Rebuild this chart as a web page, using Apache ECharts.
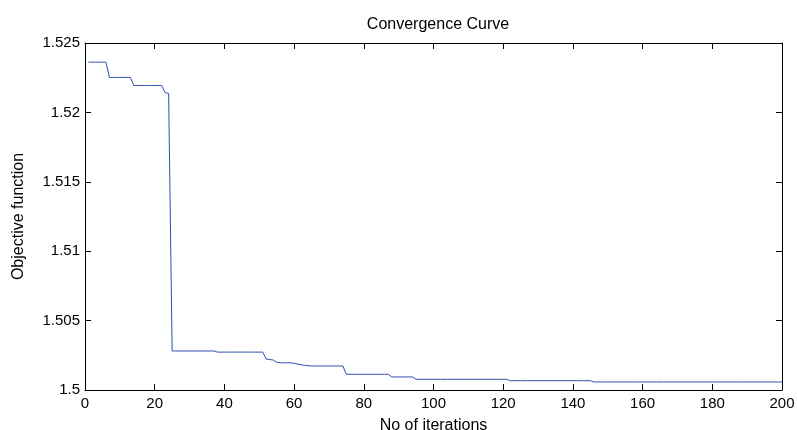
<!DOCTYPE html>
<html>
<head>
<meta charset="utf-8">
<script src="https://cdn.jsdelivr.net/npm/echarts@6/dist/echarts.min.js"></script>
<style>
html,body{margin:0;padding:0;background:#fff;}
#chart{width:797px;height:430px;}
</style>
</head>
<body>
<div id="chart"></div>
<script>
// Data
var titleText = "Convergence Curve";
var xName = "No of iterations";
var yName = "Objective function";
var xTicks = [0, 20, 40, 60, 80, 100, 120, 140, 160, 180, 200];
var yTicks = [1.5, 1.505, 1.51, 1.515, 1.52, 1.525];

// best objective value per iteration (1..200)
var bestValues = [
  1.52362, 1.52362, 1.52362, 1.52362, 1.52362, 1.52362, 1.52252, 1.52252, 1.52252, 1.52252, // 1-10
  1.52252, 1.52252, 1.52252, 1.52194, 1.52194, 1.52194, 1.52194, 1.52194, 1.52194, 1.52194, // 11-20
  1.52194, 1.52194, 1.52142, 1.52137, 1.50281, 1.50281, 1.50281, 1.50281, 1.50281, 1.50281, // 21-30
  1.50281, 1.50281, 1.50281, 1.50281, 1.50281, 1.50281, 1.50281, 1.50273, 1.50273, 1.50273, // 31-40
  1.50273, 1.50273, 1.50273, 1.50273, 1.50273, 1.50273, 1.50273, 1.50273, 1.50273, 1.50273, // 41-50
  1.50273, 1.50223, 1.50220, 1.50216, 1.50200, 1.50196, 1.50196, 1.50196, 1.50196, 1.50192, // 51-60
  1.50187, 1.50182, 1.50178, 1.50175, 1.50173, 1.50173, 1.50173, 1.50173, 1.50173, 1.50173, // 61-70
  1.50173, 1.50173, 1.50173, 1.50173, 1.50113, 1.50113, 1.50113, 1.50113, 1.50113, 1.50113, // 71-80
  1.50113, 1.50113, 1.50113, 1.50113, 1.50113, 1.50113, 1.50113, 1.50094, 1.50094, 1.50094, // 81-90
  1.50094, 1.50094, 1.50094, 1.50094, 1.50077, 1.50077, 1.50077, 1.50077, 1.50077, 1.50077, // 91-100
  1.50077, 1.50077, 1.50077, 1.50077, 1.50077, 1.50077, 1.50077, 1.50077, 1.50077, 1.50077, // 101-110
  1.50077, 1.50077, 1.50077, 1.50077, 1.50077, 1.50077, 1.50077, 1.50077, 1.50077, 1.50077, // 111-120
  1.50077, 1.50067, 1.50067, 1.50067, 1.50067, 1.50067, 1.50067, 1.50067, 1.50067, 1.50067, // 121-130
  1.50067, 1.50067, 1.50067, 1.50067, 1.50067, 1.50067, 1.50067, 1.50067, 1.50067, 1.50067, // 131-140
  1.50067, 1.50067, 1.50067, 1.50067, 1.50067, 1.50058, 1.50058, 1.50058, 1.50058, 1.50058, // 141-150
  1.50058, 1.50058, 1.50058, 1.50058, 1.50058, 1.50058, 1.50058, 1.50058, 1.50058, 1.50058, // 151-160
  1.50058, 1.50058, 1.50058, 1.50058, 1.50058, 1.50058, 1.50058, 1.50058, 1.50058, 1.50058, // 161-170
  1.50058, 1.50058, 1.50058, 1.50058, 1.50058, 1.50058, 1.50058, 1.50058, 1.50058, 1.50058, // 171-180
  1.50058, 1.50058, 1.50058, 1.50058, 1.50058, 1.50058, 1.50058, 1.50058, 1.50058, 1.50058, // 181-190
  1.50058, 1.50058, 1.50058, 1.50058, 1.50058, 1.50058, 1.50058, 1.50058, 1.50058, 1.50058  // 191-200
];

var seriesData = bestValues.map(function (v, i) { return [i + 1, v]; });

var FONT = "Liberation Sans, Arial, sans-serif";
var chart = echarts.init(document.getElementById('chart'), null, {renderer: 'canvas'});

function axisCommon(extra) {
  var base = {
    axisLine: {show: true, onZero: false, lineStyle: {color: '#000', width: 1}},
    axisTick: {show: true, inside: true, length: 6, lineStyle: {color: '#000', width: 1}},
    splitLine: {show: false}
  };
  for (var k in extra) base[k] = extra[k];
  return base;
}

var option = {
  backgroundColor: '#fff',
  animation: false,
  title: {
    text: titleText,
    left: 433, top: 12, textAlign: 'center',
    textStyle: {fontFamily: FONT, fontSize: 16, fontWeight: 'normal', color: '#000'}
  },
  grid: {left: 85, right: 15, top: 43, bottom: 40, containLabel: false, outerBoundsMode: 'none'},
  xAxis: [
    axisCommon({
      type: 'value', position: 'bottom',
      min: xTicks[0], max: xTicks[xTicks.length - 1], interval: xTicks[1] - xTicks[0],
      name: xName, nameLocation: 'middle', nameGap: 28,
      nameTextStyle: {fontFamily: FONT, fontSize: 16, color: '#000'},
      axisLabel: {fontFamily: FONT, fontSize: 15, color: '#000', margin: 6}
    }),
    axisCommon({
      type: 'value', position: 'top',
      min: xTicks[0], max: xTicks[xTicks.length - 1], interval: xTicks[1] - xTicks[0],
      axisLabel: {show: false}
    })
  ],
  yAxis: [
    axisCommon({
      type: 'value', position: 'left',
      min: yTicks[0], max: yTicks[yTicks.length - 1], interval: 0.005,
      name: yName, nameLocation: 'middle', nameGap: 58,
      nameTextStyle: {fontFamily: FONT, fontSize: 16, color: '#000'},
      axisLabel: {fontFamily: FONT, fontSize: 15, color: '#000', margin: 5,
        formatter: function (v) { return String(Math.round(v * 1000) / 1000); }}
    }),
    axisCommon({
      type: 'value', position: 'right',
      min: yTicks[0], max: yTicks[yTicks.length - 1], interval: 0.005,
      axisLabel: {show: false}
    })
  ],
  series: [{
    type: 'line',
    data: seriesData,
    xAxisIndex: 0, yAxisIndex: 0,
    showSymbol: false,
    symbol: 'none',
    lineStyle: {color: '#2f4fb0', width: 1},
    itemStyle: {color: '#2f4fb0'}
  }]
};
chart.setOption(option);
</script>
</body>
</html>
